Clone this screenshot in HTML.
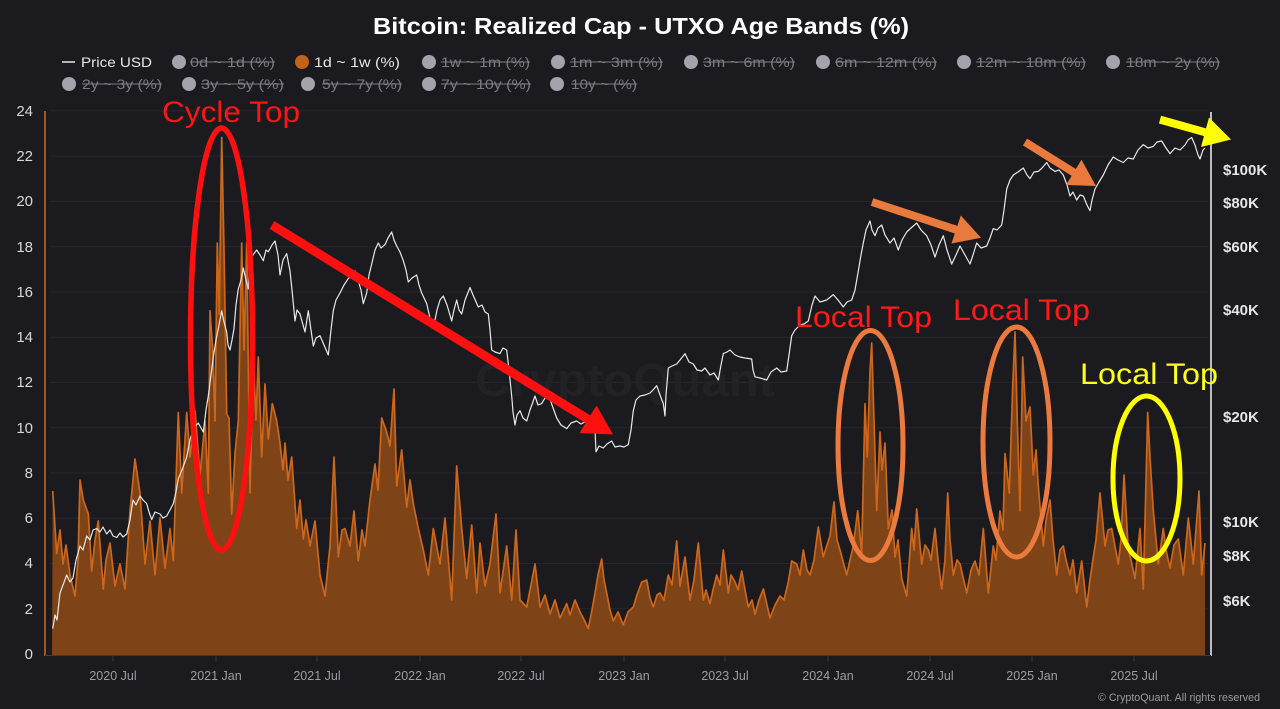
<!DOCTYPE html>
<html>
<head>
<meta charset="utf-8">
<style>
html,body{margin:0;padding:0;background:#1b1b1f;}
svg{display:block;}
text{font-family:"Liberation Sans",sans-serif;}
</style>
</head>
<body>
<svg width="1280" height="709" viewBox="0 0 1280 709" xmlns="http://www.w3.org/2000/svg">
<rect x="0" y="0" width="1280" height="709" fill="#1b1b1f"/>

<!-- Title -->
<text x="641" y="34" text-anchor="middle" font-size="23" font-weight="bold" fill="#ffffff" textLength="536" lengthAdjust="spacingAndGlyphs">Bitcoin: Realized Cap - UTXO Age Bands (%)</text>

<!-- Legend row 1 -->
<g font-size="14">
<line x1="62" y1="62" x2="75" y2="62" stroke="#e6e6e6" stroke-width="1.5"/>
<text x="81" y="67" fill="#e6e6e6" textLength="71" lengthAdjust="spacingAndGlyphs">Price USD</text>

<circle cx="179" cy="62" r="7" fill="#a5a2ad"/>
<text x="190" y="67" fill="#7c7c86" textLength="85" lengthAdjust="spacingAndGlyphs">0d ~ 1d (%)</text>
<line x1="190" y1="62" x2="275" y2="62" stroke="#7c7c86" stroke-width="1"/>

<circle cx="302" cy="62" r="7" fill="#c2631c"/>
<text x="314" y="67" fill="#e6e6e6" textLength="86" lengthAdjust="spacingAndGlyphs">1d ~ 1w (%)</text>

<circle cx="429" cy="62" r="7" fill="#a5a2ad"/>
<text x="441" y="67" fill="#7c7c86" textLength="89" lengthAdjust="spacingAndGlyphs">1w ~ 1m (%)</text>
<line x1="441" y1="62" x2="530" y2="62" stroke="#7c7c86" stroke-width="1"/>

<circle cx="558" cy="62" r="7" fill="#a5a2ad"/>
<text x="570" y="67" fill="#7c7c86" textLength="93" lengthAdjust="spacingAndGlyphs">1m ~ 3m (%)</text>
<line x1="570" y1="62" x2="663" y2="62" stroke="#7c7c86" stroke-width="1"/>

<circle cx="691" cy="62" r="7" fill="#a5a2ad"/>
<text x="703" y="67" fill="#7c7c86" textLength="92" lengthAdjust="spacingAndGlyphs">3m ~ 6m (%)</text>
<line x1="703" y1="62" x2="795" y2="62" stroke="#7c7c86" stroke-width="1"/>

<circle cx="823" cy="62" r="7" fill="#a5a2ad"/>
<text x="835" y="67" fill="#7c7c86" textLength="102" lengthAdjust="spacingAndGlyphs">6m ~ 12m (%)</text>
<line x1="835" y1="62" x2="937" y2="62" stroke="#7c7c86" stroke-width="1"/>

<circle cx="964" cy="62" r="7" fill="#a5a2ad"/>
<text x="976" y="67" fill="#7c7c86" textLength="110" lengthAdjust="spacingAndGlyphs">12m ~ 18m (%)</text>
<line x1="976" y1="62" x2="1086" y2="62" stroke="#7c7c86" stroke-width="1"/>

<circle cx="1113" cy="62" r="7" fill="#a5a2ad"/>
<text x="1126" y="67" fill="#7c7c86" textLength="94" lengthAdjust="spacingAndGlyphs">18m ~ 2y (%)</text>
<line x1="1126" y1="62" x2="1220" y2="62" stroke="#7c7c86" stroke-width="1"/>

<!-- Legend row 2 -->
<circle cx="69" cy="84" r="7" fill="#a5a2ad"/>
<text x="82" y="89" fill="#7c7c86" textLength="80" lengthAdjust="spacingAndGlyphs">2y ~ 3y (%)</text>
<line x1="82" y1="84" x2="162" y2="84" stroke="#7c7c86" stroke-width="1"/>

<circle cx="189" cy="84" r="7" fill="#a5a2ad"/>
<text x="201" y="89" fill="#7c7c86" textLength="83" lengthAdjust="spacingAndGlyphs">3y ~ 5y (%)</text>
<line x1="201" y1="84" x2="284" y2="84" stroke="#7c7c86" stroke-width="1"/>

<circle cx="308" cy="84" r="7" fill="#a5a2ad"/>
<text x="322" y="89" fill="#7c7c86" textLength="80" lengthAdjust="spacingAndGlyphs">5y ~ 7y (%)</text>
<line x1="322" y1="84" x2="402" y2="84" stroke="#7c7c86" stroke-width="1"/>

<circle cx="429" cy="84" r="7" fill="#a5a2ad"/>
<text x="441" y="89" fill="#7c7c86" textLength="90" lengthAdjust="spacingAndGlyphs">7y ~ 10y (%)</text>
<line x1="441" y1="84" x2="531" y2="84" stroke="#7c7c86" stroke-width="1"/>

<circle cx="557" cy="84" r="7" fill="#a5a2ad"/>
<text x="571" y="89" fill="#7c7c86" textLength="66" lengthAdjust="spacingAndGlyphs">10y ~ (%)</text>
<line x1="571" y1="84" x2="637" y2="84" stroke="#7c7c86" stroke-width="1"/>
</g>

<!-- Gridlines -->
<g stroke="#26262c" stroke-width="1">
<line x1="50" y1="110.9" x2="1208" y2="110.9"/>
<line x1="50" y1="156.1" x2="1208" y2="156.1"/>
<line x1="50" y1="201.4" x2="1208" y2="201.4"/>
<line x1="50" y1="246.7" x2="1208" y2="246.7"/>
<line x1="50" y1="292" x2="1208" y2="292"/>
<line x1="50" y1="337.2" x2="1208" y2="337.2"/>
<line x1="50" y1="382.4" x2="1208" y2="382.4"/>
<line x1="50" y1="427.7" x2="1208" y2="427.7"/>
<line x1="50" y1="473" x2="1208" y2="473"/>
<line x1="50" y1="518.2" x2="1208" y2="518.2"/>
<line x1="50" y1="563.5" x2="1208" y2="563.5"/>
<line x1="50" y1="608.7" x2="1208" y2="608.7"/>
</g>

<!-- Watermark -->
<text x="625" y="396" text-anchor="middle" font-size="46" font-weight="bold" fill="#212126" textLength="300" lengthAdjust="spacingAndGlyphs">CryptoQuant</text>

<!-- Left y labels -->
<g font-size="15" fill="#d8d8dc" text-anchor="end">
<text x="33" y="116">24</text>
<text x="33" y="161">22</text>
<text x="33" y="206">20</text>
<text x="33" y="252">18</text>
<text x="33" y="297">16</text>
<text x="33" y="342">14</text>
<text x="33" y="387">12</text>
<text x="33" y="433">10</text>
<text x="33" y="478">8</text>
<text x="33" y="523">6</text>
<text x="33" y="568">4</text>
<text x="33" y="614">2</text>
<text x="33" y="659">0</text>
</g>

<!-- Orange area -->
<path fill="#7e4316" stroke="none" d="M52,655 L52.7,491 L56.7,553.6 L60,530 L63,564 L66,545 L70,575 L75,596 L78,560 L80,480 L83.3,500 L88.3,514 L91.7,571 L95,540 L98.3,521 L103.3,589 L106,560 L110,543 L115,586 L120,564 L125,589 L130,511 L135,459 L140,493 L145,564 L150,521 L155,575 L160,518 L165,568 L170,528.6 L173.3,560.7 L178.3,412.5 L181.7,493 L186.7,412.5 L190,457 L195,410.7 L200,475 L205,421 L208.3,493 L210,310.7 L212.7,350 L215,421 L217.3,243 L219.3,314 L221.7,137.5 L224,250 L226.7,414 L229,418 L231.7,514 L235,453.6 L238.3,421 L241.7,243 L244,350 L246.7,243 L250,493 L253.3,357 L256,420 L258.3,357 L261.7,457 L265,384 L268.3,439 L272.3,403.6 L276.7,421 L280,443 L283,470 L285,443 L288,480 L291.7,457 L296.7,528.6 L300,500 L303.3,539 L306,520 L310,546 L315,521 L320,575 L325,596 L330,546 L334,457 L338.3,557 L342,530 L345,528.6 L350,546 L354,511 L358.3,560.7 L362,530 L365,546 L370,500 L375,464 L378,490 L381.7,418 L386.7,432 L390,446 L394,389 L396.7,486 L401.7,450 L406.7,507 L410,480 L413.3,503.6 L418.3,528.6 L423.3,550 L428.3,575 L433.3,528.6 L440,564 L445,518 L451.7,600 L456.7,466 L461.7,528.6 L466.7,578.6 L471.7,525 L476.7,593 L480,543 L485,586 L490,564 L496,514 L500,593 L506.7,546 L511.7,600 L516,530 L520,600 L526.7,607 L531,585 L535,564 L540,607 L545,595 L550,614 L555,600 L560,618 L566.7,603.6 L570,615 L575,600 L580,612 L583.3,618 L588.3,628.6 L592,610 L595,593 L598,575 L601.7,559 L604,580 L606.7,593 L610,610 L613.3,621 L618,612 L623.3,625 L628,612 L633.3,607 L637,595 L641.7,582 L646.7,580 L650,598 L653.3,607 L657,595 L660,593 L664,600 L668.3,575 L672,585 L676.7,541 L680,586 L685,557 L690,600 L694,580 L698.3,543 L703.3,600 L706,590 L710,603.6 L713,590 L716.7,575 L720,585 L723.3,550 L728.3,593 L731,575 L735,582 L738,590 L741.7,571 L745,590 L748.3,607 L752,600 L755,614 L759,600 L763.3,589 L767,605 L770,618 L775,605 L780,596 L784,600 L788.3,582 L791.7,561 L796.7,564 L800,575 L803.3,550 L807,570 L810,575 L814,560 L818.3,527 L823.3,557 L826.7,546 L830,536 L834,502 L837,540 L840,550 L846.7,575 L850,560 L853.3,546 L857.7,510.7 L861.7,553.6 L865,403.6 L867.3,457 L870,371 L871.7,343 L874,421 L876.7,510.7 L880,432 L882,470 L885,443 L888.3,528.6 L892,510 L895,557 L898,540 L901.7,578.6 L906.7,596 L911.7,528.6 L914,550 L916.7,509 L921.7,564 L925,545 L928.3,550 L931,560 L935,528.6 L938,560 L941.7,589 L945,560 L947.7,493 L950,540 L953.3,575 L957,560 L960,564 L966.7,593 L971,570 L975,561 L979,575 L983.3,528.6 L988.3,593 L993.3,546 L996,560 L1000,511 L1003,530 L1005,453.6 L1009.3,493 L1012.7,386 L1015,332 L1017.3,421 L1020,510.7 L1022.7,357 L1026,421 L1030,407 L1033.3,475 L1036,450 L1038.3,486 L1043.3,546 L1046,520 L1050,500 L1053,540 L1056.7,575 L1060,550 L1063.3,546 L1066,560 L1070,575 L1073,560 L1076.7,593 L1081.7,561 L1086.7,607 L1090,580 L1093.3,557 L1096,540 L1100,493 L1105,546 L1108,530 L1111.7,528.6 L1118.3,564 L1121,540 L1124,475 L1128.3,550 L1131,560 L1135,578.6 L1140,528.6 L1143.3,589 L1147.7,412.5 L1150,457 L1153.3,510.7 L1158.3,564 L1163.3,528.6 L1166,550 L1170,568 L1174,545 L1178.3,539 L1183.3,575 L1188.3,518 L1193.3,564 L1199,491 L1201.7,575 L1205,543 L1205,655 Z"/>
<path fill="none" stroke="#cc671c" stroke-width="1.7" stroke-linejoin="round" d="M52.7,491 L56.7,553.6 L60,530 L63,564 L66,545 L70,575 L75,596 L78,560 L80,480 L83.3,500 L88.3,514 L91.7,571 L95,540 L98.3,521 L103.3,589 L106,560 L110,543 L115,586 L120,564 L125,589 L130,511 L135,459 L140,493 L145,564 L150,521 L155,575 L160,518 L165,568 L170,528.6 L173.3,560.7 L178.3,412.5 L181.7,493 L186.7,412.5 L190,457 L195,410.7 L200,475 L205,421 L208.3,493 L210,310.7 L212.7,350 L215,421 L217.3,243 L219.3,314 L221.7,137.5 L224,250 L226.7,414 L229,418 L231.7,514 L235,453.6 L238.3,421 L241.7,243 L244,350 L246.7,243 L250,493 L253.3,357 L256,420 L258.3,357 L261.7,457 L265,384 L268.3,439 L272.3,403.6 L276.7,421 L280,443 L283,470 L285,443 L288,480 L291.7,457 L296.7,528.6 L300,500 L303.3,539 L306,520 L310,546 L315,521 L320,575 L325,596 L330,546 L334,457 L338.3,557 L342,530 L345,528.6 L350,546 L354,511 L358.3,560.7 L362,530 L365,546 L370,500 L375,464 L378,490 L381.7,418 L386.7,432 L390,446 L394,389 L396.7,486 L401.7,450 L406.7,507 L410,480 L413.3,503.6 L418.3,528.6 L423.3,550 L428.3,575 L433.3,528.6 L440,564 L445,518 L451.7,600 L456.7,466 L461.7,528.6 L466.7,578.6 L471.7,525 L476.7,593 L480,543 L485,586 L490,564 L496,514 L500,593 L506.7,546 L511.7,600 L516,530 L520,600 L526.7,607 L531,585 L535,564 L540,607 L545,595 L550,614 L555,600 L560,618 L566.7,603.6 L570,615 L575,600 L580,612 L583.3,618 L588.3,628.6 L592,610 L595,593 L598,575 L601.7,559 L604,580 L606.7,593 L610,610 L613.3,621 L618,612 L623.3,625 L628,612 L633.3,607 L637,595 L641.7,582 L646.7,580 L650,598 L653.3,607 L657,595 L660,593 L664,600 L668.3,575 L672,585 L676.7,541 L680,586 L685,557 L690,600 L694,580 L698.3,543 L703.3,600 L706,590 L710,603.6 L713,590 L716.7,575 L720,585 L723.3,550 L728.3,593 L731,575 L735,582 L738,590 L741.7,571 L745,590 L748.3,607 L752,600 L755,614 L759,600 L763.3,589 L767,605 L770,618 L775,605 L780,596 L784,600 L788.3,582 L791.7,561 L796.7,564 L800,575 L803.3,550 L807,570 L810,575 L814,560 L818.3,527 L823.3,557 L826.7,546 L830,536 L834,502 L837,540 L840,550 L846.7,575 L850,560 L853.3,546 L857.7,510.7 L861.7,553.6 L865,403.6 L867.3,457 L870,371 L871.7,343 L874,421 L876.7,510.7 L880,432 L882,470 L885,443 L888.3,528.6 L892,510 L895,557 L898,540 L901.7,578.6 L906.7,596 L911.7,528.6 L914,550 L916.7,509 L921.7,564 L925,545 L928.3,550 L931,560 L935,528.6 L938,560 L941.7,589 L945,560 L947.7,493 L950,540 L953.3,575 L957,560 L960,564 L966.7,593 L971,570 L975,561 L979,575 L983.3,528.6 L988.3,593 L993.3,546 L996,560 L1000,511 L1003,530 L1005,453.6 L1009.3,493 L1012.7,386 L1015,332 L1017.3,421 L1020,510.7 L1022.7,357 L1026,421 L1030,407 L1033.3,475 L1036,450 L1038.3,486 L1043.3,546 L1046,520 L1050,500 L1053,540 L1056.7,575 L1060,550 L1063.3,546 L1066,560 L1070,575 L1073,560 L1076.7,593 L1081.7,561 L1086.7,607 L1090,580 L1093.3,557 L1096,540 L1100,493 L1105,546 L1108,530 L1111.7,528.6 L1118.3,564 L1121,540 L1124,475 L1128.3,550 L1131,560 L1135,578.6 L1140,528.6 L1143.3,589 L1147.7,412.5 L1150,457 L1153.3,510.7 L1158.3,564 L1163.3,528.6 L1166,550 L1170,568 L1174,545 L1178.3,539 L1183.3,575 L1188.3,518 L1193.3,564 L1199,491 L1201.7,575 L1205,543"/>

<!-- Price line -->
<path fill="none" stroke="#e8e8ea" stroke-width="1.2" stroke-linejoin="round" d="M52.7,628.6 L55,615 L57,620 L60,593 L63,585 L66.7,575 L70,582 L73,578 L76,560 L80,546 L83,550 L86.7,536 L90,540 L93,530 L96.7,528.6 L100,532 L103,527 L106.7,534 L110,530 L113,536 L116.7,537.5 L120,533 L123,537 L126.7,534 L130,520 L133,500 L136,505 L140,496 L143,500 L146.7,503.6 L149,512 L151.7,519.6 L155,512 L160,514 L163,518 L166.7,516 L170,510 L173.3,503.6 L176,492 L178.3,478.6 L182,470 L186.7,457 L190,440 L193.3,428.6 L198.3,423 L201,428 L203.3,432 L206,410 L208.3,396 L211,375 L213.3,357 L216,340 L218.3,328.6 L221.7,310.7 L224,322 L226.7,332 L228,345 L230,350 L232,340 L234,328.6 L236,305 L238.3,289 L241,280 L243.3,268 L246,280 L248.3,289 L250,257 L253,255 L256.7,250 L260,255 L263.3,260.7 L266,250 L268.3,251.8 L272,245 L275,241 L278,255 L280,275 L283,260 L286.7,253.6 L290,271 L292,290 L295,321 L297,310 L300,314 L303,325 L305,332 L308.3,310.7 L311,330 L313.3,346 L316,338 L320,335.7 L324,345 L328.3,355 L331,330 L333.3,310.7 L336,300 L340,293 L344,285 L348.3,278.6 L352,275 L355,271 L358,280 L361,290 L363.3,303.6 L366.7,293 L369,275 L371.7,264 L375,250 L378.3,243 L381,248 L385,244.6 L388,238 L391.7,232 L394,240 L396.7,246 L400,252 L403.3,260.7 L406,270 L408.3,282 L412,278 L416.7,275 L419,285 L421.7,293 L426.7,303.6 L430,318 L433.3,328.6 L437,310 L440,300 L443.3,296 L447,305 L451.7,321 L454,310 L456.7,300 L459,310 L461.7,314 L465,300 L470,287.5 L473,295 L478.3,307 L482,305 L485,312 L488.3,314 L490,330 L491.7,350 L495,352 L500,353.6 L503,348 L506.7,350 L509,370 L511.7,396 L513,412 L515,425 L517,415 L520,410.7 L523,418 L526.7,421 L530,410 L535,396 L538,405 L541.7,403.6 L545,398 L548.3,393 L552,405 L556.7,418 L561,425 L566.7,428.6 L571,423 L576.7,421 L581,424 L586.7,421 L590,418 L593.3,414 L595,430 L596,451.8 L599,446 L603.3,448 L607,444 L611.7,441 L615,447 L620,446 L624,447 L628.3,444.6 L631,430 L633.3,410.7 L636,400 L640,396 L645,395 L650,393 L653,390 L656.7,385.7 L660,395 L663.3,403.6 L665,416 L666,395 L668.3,368 L672,366 L676.7,364 L680,360 L685,353.6 L689,362 L693.3,364 L697,370 L701.7,371 L705,368 L710,375 L714,373 L718.3,380 L721,365 L723.3,353.6 L727,352 L730,350 L735,355 L740,357 L745,358 L751.7,359 L753,370 L755,376.8 L760,378 L766.7,380 L771,372 L776.7,368 L781,372 L786.7,371 L789,355 L791.7,335.7 L795,330 L800,325 L804,324 L808.3,321 L812,305 L815,296 L820,302 L826.7,300 L833.3,294.6 L838,300 L843.3,307 L847,302 L851.7,300 L855,290 L858.3,271 L861,255 L863.3,243 L866,230 L870,221 L872,230 L875,235.7 L878,228 L881.7,225 L885,235 L890,243 L894,238 L898.3,250 L902,240 L906.7,232 L911,228 L916.7,223 L921,230 L926.7,235.7 L931,245 L935,257 L939,245 L943.3,235.7 L947,250 L951.7,264 L956,255 L960,246 L965,255 L970,264 L973,255 L976.7,243 L981,248 L986.7,246 L990,238 L993.3,228.6 L997,230 L1001.7,225 L1004,210 L1006.7,189 L1010,180 L1013.3,175 L1018,172 L1023.3,168 L1027,175 L1030,178.6 L1034,172 L1038.3,171.4 L1042,168 L1046.7,162.5 L1050,168 L1055,171.4 L1059,170 L1063.3,175 L1067,185 L1070,196 L1073,192 L1076.7,200 L1080,195 L1083.3,196 L1087,205 L1090,210.7 L1092,200 L1095,189 L1099,182 L1103.3,175 L1108,165 L1113.3,157 L1118,160 L1123.3,162.5 L1128,158 L1133.3,159 L1138,150 L1143.3,144.6 L1148,148 L1153.3,146.4 L1157,142 L1161.7,141 L1166,148 L1170,153.6 L1175,148 L1180,150 L1185,145 L1188,140 L1191.7,137.5 L1195,145 L1198,155 L1200,159 L1203,150 L1205,148"/>

<!-- Axes -->
<line x1="45" y1="111" x2="45" y2="656" stroke="#c2661c" stroke-width="1.6"/>
<line x1="1211" y1="112" x2="1211" y2="656" stroke="#e6e6e6" stroke-width="1.6"/>
<line x1="45" y1="655.5" x2="1211" y2="655.5" stroke="#3a3a42" stroke-width="1"/>
<g stroke="#3a3a42" stroke-width="1">
<line x1="113" y1="656" x2="113" y2="661"/>
<line x1="216" y1="656" x2="216" y2="661"/>
<line x1="317" y1="656" x2="317" y2="661"/>
<line x1="420" y1="656" x2="420" y2="661"/>
<line x1="521" y1="656" x2="521" y2="661"/>
<line x1="624" y1="656" x2="624" y2="661"/>
<line x1="725" y1="656" x2="725" y2="661"/>
<line x1="828" y1="656" x2="828" y2="661"/>
<line x1="930" y1="656" x2="930" y2="661"/>
<line x1="1032" y1="656" x2="1032" y2="661"/>
<line x1="1134" y1="656" x2="1134" y2="661"/>
</g>

<!-- X labels -->
<g font-size="12.5" fill="#9c9ca4" text-anchor="middle">
<text x="113" y="680">2020 Jul</text>
<text x="216" y="680">2021 Jan</text>
<text x="317" y="680">2021 Jul</text>
<text x="420" y="680">2022 Jan</text>
<text x="521" y="680">2022 Jul</text>
<text x="624" y="680">2023 Jan</text>
<text x="725" y="680">2023 Jul</text>
<text x="828" y="680">2024 Jan</text>
<text x="930" y="680">2024 Jul</text>
<text x="1032" y="680">2025 Jan</text>
<text x="1134" y="680">2025 Jul</text>
</g>

<!-- Right labels -->
<g font-size="15" fill="#e6e6e8" font-weight="bold">
<text x="1223" y="175">$100K</text>
<text x="1223" y="208">$80K</text>
<text x="1223" y="252">$60K</text>
<text x="1223" y="315">$40K</text>
<text x="1223" y="422">$20K</text>
<text x="1223" y="527">$10K</text>
<text x="1223" y="561">$8K</text>
<text x="1223" y="606">$6K</text>
</g>

<!-- Copyright -->
<text x="1098" y="701" font-size="11" fill="#9a9aa0" textLength="162" lengthAdjust="spacingAndGlyphs">© CryptoQuant. All rights reserved</text>

<!-- Annotations -->
<text x="162" y="122" font-size="30" fill="#ff1414" textLength="138" lengthAdjust="spacingAndGlyphs">Cycle Top</text>
<ellipse cx="221.5" cy="339" rx="31" ry="211" fill="none" stroke="#ff1010" stroke-width="5.5"/>

<line x1="272" y1="225" x2="590" y2="420.5" stroke="#ff1010" stroke-width="9"/>
<polygon points="613,434.5 579.5,433 596.5,405.5" fill="#ff1010"/>

<text x="795" y="327" font-size="30" fill="#ff1a1a" textLength="137" lengthAdjust="spacingAndGlyphs">Local Top</text>
<ellipse cx="870.5" cy="445.5" rx="32.5" ry="115" fill="none" stroke="#ea7a3e" stroke-width="5"/>

<text x="953" y="320" font-size="30" fill="#ff1a1a" textLength="137" lengthAdjust="spacingAndGlyphs">Local Top</text>
<ellipse cx="1016.5" cy="442" rx="33.5" ry="115" fill="none" stroke="#ea7a3e" stroke-width="5"/>

<text x="1080" y="384" font-size="30" fill="#ffff1a" textLength="138" lengthAdjust="spacingAndGlyphs">Local Top</text>
<ellipse cx="1146.5" cy="478.5" rx="33.5" ry="82.5" fill="none" stroke="#ffff00" stroke-width="5"/>

<!-- Orange arrows -->
<line x1="872" y1="202" x2="958" y2="230.3" stroke="#e9793c" stroke-width="8"/>
<polygon points="981,237.7 951.5,243.5 960.8,215.5" fill="#e9793c"/>
<line x1="1025" y1="142" x2="1075" y2="173.2" stroke="#e9793c" stroke-width="8"/>
<polygon points="1096,186 1066,185 1081.5,159.8" fill="#e9793c"/>

<!-- Yellow arrow -->
<line x1="1160" y1="119.6" x2="1207" y2="132.8" stroke="#ffff00" stroke-width="8"/>
<polygon points="1231,139.5 1201,147 1209,117.5" fill="#ffff00"/>
</svg>
</body>
</html>
